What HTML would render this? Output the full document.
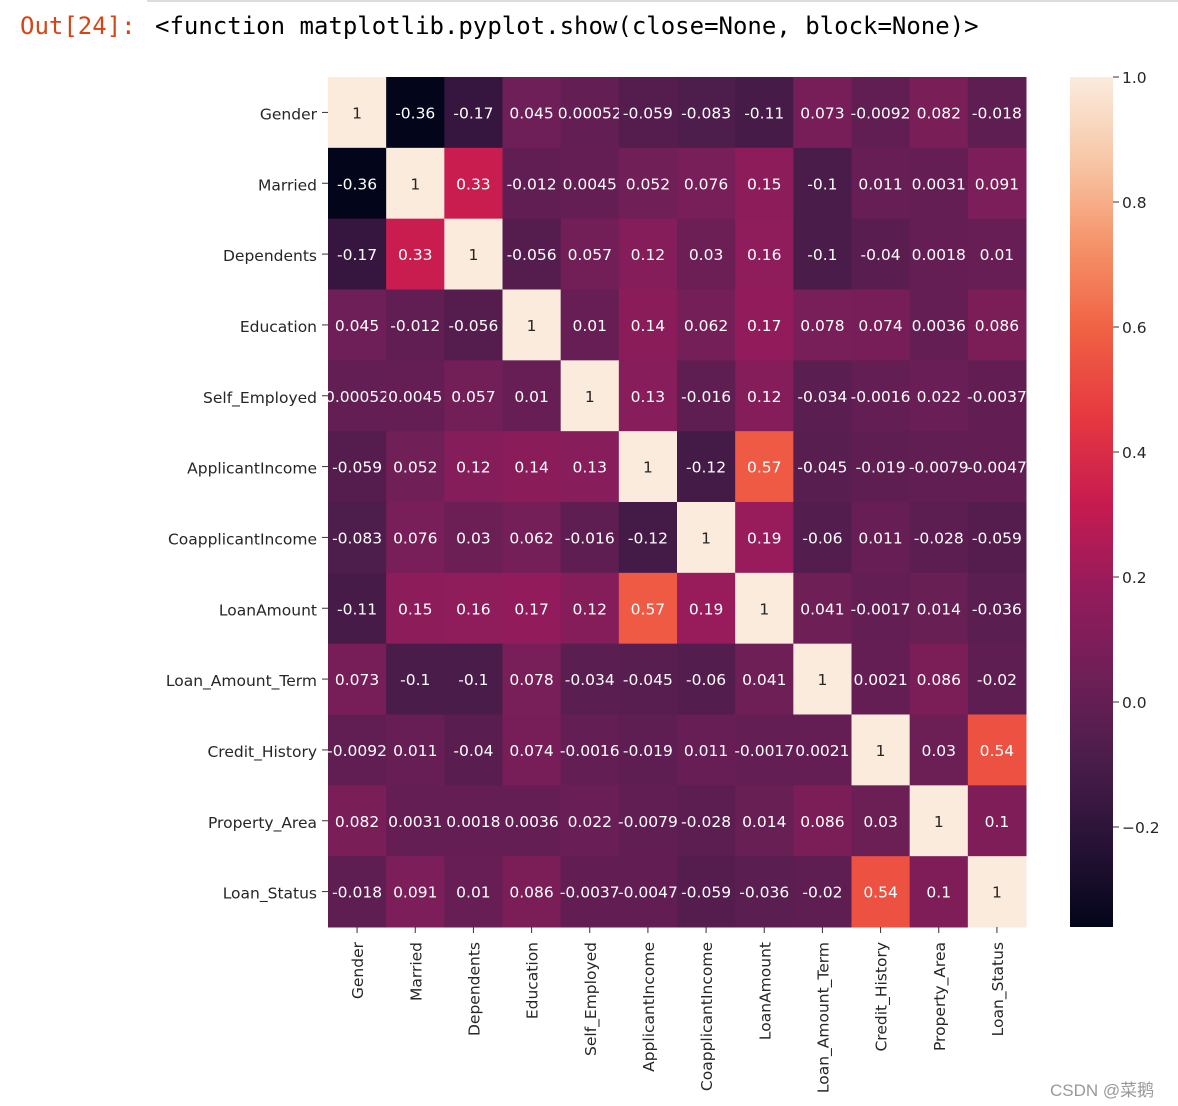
<!DOCTYPE html>
<html><head><meta charset="utf-8"><style>
body{margin:0;background:#fff;width:1178px;height:1106px;overflow:hidden;position:relative}
.mono{font-family:"DejaVu Sans Mono","Liberation Mono",monospace;font-size:24px;position:absolute;top:12px}
</style></head><body>
<div style="position:absolute;left:147px;top:0;width:1031px;height:2px;background:#ddd"></div>
<div class="mono" style="left:20px;color:#d84315">Out[24]:</div>
<div class="mono" style="left:155px;color:#000">&lt;function matplotlib.pyplot.show(close=None, block=None)&gt;</div>
<svg id="chart" width="1178" height="1106" style="position:absolute;left:0;top:0" font-family="DejaVu Sans, Liberation Sans, sans-serif"></svg>
<div style="position:absolute;left:1050px;top:1076px;font:17px 'Liberation Sans','Noto Sans CJK SC',sans-serif;color:#999">CSDN @菜鹅</div>
<script>
const labels=["Gender","Married","Dependents","Education","Self_Employed","ApplicantIncome","CoapplicantIncome","LoanAmount","Loan_Amount_Term","Credit_History","Property_Area","Loan_Status"];
const row0=[1,-0.36,-0.17,0.045,0.00052,-0.059,-0.083,-0.11,0.073,-0.0092,0.082,-0.018];
const row1=[-0.36,1,0.33,-0.012,0.0045,0.052,0.076,0.15,-0.1,0.011,0.0031,0.091];
const row2=[-0.17,0.33,1,-0.056,0.057,0.12,0.03,0.16,-0.1,-0.04,0.0018,0.01];
const row3=[0.045,-0.012,-0.056,1,0.01,0.14,0.062,0.17,0.078,0.074,0.0036,0.086];
const row4=[0.00052,0.0045,0.057,0.01,1,0.13,-0.016,0.12,-0.034,-0.0016,0.022,-0.0037];
const row5=[-0.059,0.052,0.12,0.14,0.13,1,-0.12,0.57,-0.045,-0.019,-0.0079,-0.0047];
const row6=[-0.083,0.076,0.03,0.062,-0.016,-0.12,1,0.19,-0.06,0.011,-0.028,-0.059];
const row7=[-0.11,0.15,0.16,0.17,0.12,0.57,0.19,1,0.041,-0.0017,0.014,-0.036];
const row8=[0.073,-0.1,-0.1,0.078,-0.034,-0.045,-0.06,0.041,1,0.0021,0.086,-0.02];
const row9=[-0.0092,0.011,-0.04,0.074,-0.0016,-0.019,0.011,-0.0017,0.0021,1,0.03,0.54];
const row10=[0.082,0.0031,0.0018,0.0036,0.022,-0.0079,-0.028,0.014,0.086,0.03,1,0.1];
const row11=[-0.018,0.091,0.01,0.086,-0.0037,-0.0047,-0.059,-0.036,-0.02,0.54,0.1,1];
const matrix=[row0,row1,row2,row3,row4,row5,row6,row7,row8,row9,row10,row11];
const cbTicks=[1.0,0.8,0.6,0.4,0.2,0.0,-0.2];
const vmin=-0.36,vmax=1;
const X0=328,Y0=77,W=698,H=850;
const cw=W/12,ch=H/12;
const stops=[[3,5,26],[40,18,54],[76,29,75],[112,31,87],[150,27,92],[200,27,80],[230,56,64],[240,96,67],[245,145,104],[247,198,166],[250,235,221]];
function color(v){let t=(v-vmin)/(vmax-vmin);t=Math.max(0,Math.min(1,t))*10;const i=Math.min(9,Math.floor(t)),f=t-i;const a=stops[i],b=stops[i+1];return `rgb(${a.map((c,k)=>Math.round(c+(b[k]-c)*f)).join(',')})`;}
function xs(j){return X0+j*cw;}function ys(i){return Y0+i*ch;}
function cy(v){return Y0+(vmax-v)/(vmax-vmin)*H;}
function fmt(v){if(v===1)return"1";return String(v);}
const svg=document.getElementById('chart');const NS="http://www.w3.org/2000/svg";
function el(t,a,p){const e=document.createElementNS(NS,t);for(const k in a)e.setAttribute(k,a[k]);(p||svg).appendChild(e);return e;}
matrix.forEach((r,i)=>r.forEach((v,j)=>{
 const rc=el('rect',{x:xs(j),y:ys(i),width:cw+0.5,height:ch+0.5,fill:color(v)});
 
 
 const t=el('text',{x:xs(j)+cw/2,y:ys(i)+ch/2+6,'text-anchor':'middle','font-size':15.5,fill:v>0.8?'#262626':'#fff'});
 t.textContent=fmt(v);
 
 
}));
labels.forEach((l,i)=>{
 el('line',{x1:X0-6,x2:X0,y1:ys(i)+ch/2,y2:ys(i)+ch/2,stroke:'#333'});
 const t=el('text',{x:X0-11,y:ys(i)+ch/2+7,'text-anchor':'end','font-size':15.5,fill:'#262626'});t.textContent=l;
 
 
 const x=xs(i)+cw/2;
 el('line',{x1:x,x2:x,y1:Y0+H,y2:Y0+H+6,stroke:'#333'});
 const t2=el('text',{x:0,y:0,'text-anchor':'end','font-size':15.5,fill:'#262626',transform:`translate(${x+6},${Y0+H+15}) rotate(-90)`});t2.textContent=l;
 
 
});
const defs=el('defs',{});const g=el('linearGradient',{id:'cb',x1:0,y1:1,x2:0,y2:0},defs);
for(let k=0;k<=20;k++){el('stop',{offset:k/20,'stop-color':color(vmin+(vmax-vmin)*k/20)},g);}
const cb=el('rect',{x:1070,y:Y0,width:43,height:H,fill:'url(#cb)'});


cbTicks.forEach(v=>{const y=cy(v);el('line',{x1:1113,x2:1119,y1:y,y2:y,stroke:'#333'});
 const t=el('text',{x:1122,y:y+6,'font-size':15.5,fill:'#262626'});t.textContent=(v<0?'\u2212':'')+Math.abs(v).toFixed(1);
 
 });
</script>
</body></html>
